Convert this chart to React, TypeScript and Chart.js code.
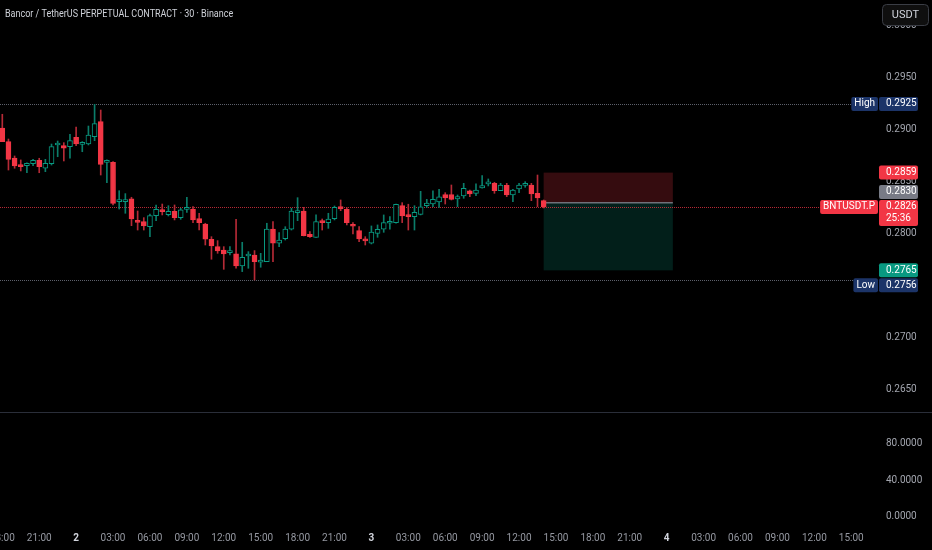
import { useEffect, useRef } from 'react'
import { Chart, registerables } from 'chart.js'
import type { ChartConfiguration, Plugin } from 'chart.js'

Chart.register(...registerables)

// 30m candles, day 1 18:00 -> day 3 14:00
const opens = [
  0.29019, 0.28888, 0.28731, 0.28663, 0.28657, 0.28676, 0.28709, 0.28632, 0.28676, 0.28856,
  0.28849, 0.2884, 0.2893, 0.28862, 0.28865, 0.28936, 0.2908, 0.28689, 0.28689, 0.28311,
  0.28311, 0.28337, 0.28125, 0.28118, 0.2807, 0.28176, 0.28231, 0.28186, 0.28218, 0.28157,
  0.28237, 0.2824, 0.28147, 0.28096, 0.27949, 0.27878, 0.27846, 0.2782, 0.27808, 0.27692,
  0.27788, 0.27798, 0.27728, 0.27734, 0.28048, 0.27911, 0.27955, 0.28045, 0.28205, 0.28221,
  0.27997, 0.27968, 0.28128, 0.28109, 0.28147, 0.28263, 0.28237, 0.28093, 0.28032, 0.27942,
  0.27911, 0.28006, 0.28045, 0.28103, 0.28109, 0.28272, 0.2818, 0.28167, 0.28189, 0.28272,
  0.28288, 0.28308, 0.28378, 0.28378, 0.28337, 0.28365, 0.28416, 0.28391, 0.28442, 0.28481,
  0.28487, 0.28416, 0.28468, 0.28375, 0.28433, 0.28468, 0.28471, 0.28391, 0.2832,
]
const highs = [
  0.29151, 0.28913, 0.2875, 0.28712, 0.28683, 0.28718, 0.28728, 0.28718, 0.28865, 0.28894,
  0.28878, 0.28959, 0.29029, 0.28888, 0.29038, 0.29247, 0.29192, 0.28712, 0.28695, 0.28416,
  0.28388, 0.28353, 0.28221, 0.28157, 0.28192, 0.28279, 0.28288, 0.28272, 0.28279, 0.28247,
  0.28353, 0.28263, 0.28199, 0.28103, 0.27974, 0.27936, 0.27878, 0.27878, 0.28141, 0.2792,
  0.2783, 0.2784, 0.27814, 0.28103, 0.28118, 0.28013, 0.2807, 0.28247, 0.28349, 0.28256,
  0.28022, 0.28183, 0.28144, 0.28199, 0.28269, 0.28327, 0.28253, 0.28109, 0.2807, 0.27974,
  0.28077, 0.28087, 0.28183, 0.28167, 0.28288, 0.28301, 0.28286, 0.28272, 0.2841, 0.28333,
  0.28416, 0.2843, 0.28397, 0.28471, 0.28375, 0.28487, 0.28423, 0.28481, 0.28561, 0.28529,
  0.28497, 0.28487, 0.28487, 0.2843, 0.28487, 0.28503, 0.28487, 0.28567, 0.28327,
]
const lows = [
  0.28888, 0.28615, 0.28632, 0.28606, 0.28589, 0.28657, 0.28589, 0.28599, 0.28663, 0.28743,
  0.28702, 0.28728, 0.28849, 0.28791, 0.28856, 0.28897, 0.28567, 0.28493, 0.28279, 0.2824,
  0.28199, 0.2808, 0.28038, 0.28038, 0.27974, 0.28128, 0.28183, 0.28173, 0.28135, 0.28141,
  0.28208, 0.28109, 0.28038, 0.27894, 0.27757, 0.27814, 0.2766, 0.27798, 0.2767, 0.27638,
  0.2767, 0.27558, 0.2768, 0.27734, 0.27734, 0.27878, 0.27942, 0.28038, 0.28128, 0.27981,
  0.27968, 0.27968, 0.28038, 0.28054, 0.28135, 0.28224, 0.28087, 0.28, 0.27926, 0.27894,
  0.27904, 0.27968, 0.28016, 0.28045, 0.28103, 0.28109, 0.28038, 0.28038, 0.28183, 0.28256,
  0.28263, 0.28256, 0.28288, 0.28327, 0.28263, 0.28343, 0.28359, 0.28368, 0.2844, 0.28462,
  0.28391, 0.28416, 0.28359, 0.28311, 0.28397, 0.28449, 0.2832, 0.28263, 0.2825,
]
const closes = [
  0.28888, 0.28718, 0.28654, 0.28647, 0.2868, 0.28709, 0.28647, 0.2868, 0.2884, 0.28868,
  0.28824, 0.28897, 0.28865, 0.28878, 0.28952, 0.29061, 0.2867, 0.28709, 0.28295, 0.28327,
  0.28327, 0.28144, 0.28112, 0.28077, 0.28176, 0.28238, 0.28215, 0.28218, 0.28157, 0.28231,
  0.28247, 0.28135, 0.28109, 0.27949, 0.27885, 0.27837, 0.27808, 0.2783, 0.27692, 0.27776,
  0.27805, 0.27734, 0.2775, 0.28048, 0.27911, 0.27942, 0.28048, 0.28221, 0.28218, 0.27984,
  0.27974, 0.28118, 0.28109, 0.28144, 0.28256, 0.2824, 0.28109, 0.28074, 0.27952, 0.27933,
  0.28019, 0.28045, 0.28109, 0.28118, 0.28286, 0.28173, 0.28167, 0.28209, 0.2826, 0.28298,
  0.28333, 0.28356, 0.28346, 0.28333, 0.28359, 0.28439, 0.28385, 0.28423, 0.28465, 0.28493,
  0.28416, 0.28471, 0.28375, 0.28423, 0.28471, 0.28487, 0.28385, 0.28346, 0.2826,
]

// time axis: one tick every 6 bars (3h)
const timeTickIdx = [
  0, 6, 12, 18, 24, 30, 36, 42, 48, 54, 60, 66, 72, 78, 84, 90, 96, 102, 108, 114, 120, 126, 132, 138,
]
const timeTickLabels = [
  '18:00', '21:00', '2', '03:00', '06:00', '09:00', '12:00', '15:00', '18:00', '21:00', '3', '03:00',
  '06:00', '09:00', '12:00', '15:00', '18:00', '21:00', '4', '03:00', '06:00', '09:00', '12:00', '15:00',
]
const dayLabels = ['2', '3', '4']
const priceTicks = [0.265, 0.27, 0.275, 0.28, 0.285, 0.29, 0.295, 0.3]
const paneTicks = [0, 40, 80]

const title = 'Bancor / TetherUS PERPETUAL CONTRACT · 30 · Binance'
const symbol = 'BNTUSDT.P'
const countdown = '25:36'
const highPrice = 0.2925
const lowPrice = 0.2756
const lastPrice = 0.2826
// long/short position tool
const entryPrice = 0.283
const stopPrice = 0.2859
const targetPrice = 0.2765
const positionStart = 88
const positionEnd = 109

const UP = '#089981'
const DOWN = '#f23645'
const FONT = 'Roboto, "Noto Sans", sans-serif'

const idx = opens.map((_, i) => i)
const isUp = (i: number) => closes[i] >= opens[i]

type AxisLabel = {
  price: number
  lines: string[]
  bg: string
  tag?: string
  fixed?: boolean
  y?: number
}

const overlay: Plugin<'bar'> = {
  id: 'overlay',
  beforeDatasetsDraw(chart) {
    const { ctx, chartArea } = chart
    const x = chart.scales.x
    const y = chart.scales.y
    ctx.save()

    // position tool boxes
    const xl = x.getPixelForValue(positionStart)
    const xr = x.getPixelForValue(positionEnd)
    const yStop = y.getPixelForValue(stopPrice)
    const yEntry = y.getPixelForValue(entryPrice)
    const yTarget = y.getPixelForValue(targetPrice)
    ctx.fillStyle = 'rgba(242,54,69,0.22)'
    ctx.fillRect(xl, yStop, xr - xl, yEntry - yStop)
    ctx.fillStyle = 'rgba(8,153,129,0.2)'
    ctx.fillRect(xl, yEntry, xr - xl, yTarget - yEntry)
    ctx.strokeStyle = 'rgba(120,123,134,0.9)'
    ctx.lineWidth = 1.5
    ctx.beginPath()
    ctx.moveTo(xl, yEntry)
    ctx.lineTo(xr, yEntry)
    ctx.stroke()

    // high / low / last price lines
    ctx.lineWidth = 1
    ctx.setLineDash([1, 1])
    const hline = (price: number, color: string, to: number) => {
      const py = Math.round(y.getPixelForValue(price)) + 0.5
      ctx.strokeStyle = color
      ctx.beginPath()
      ctx.moveTo(chartArea.left, py)
      ctx.lineTo(to, py)
      ctx.stroke()
    }
    hline(highPrice, '#5d606b', chartArea.right - 20)
    hline(lowPrice, '#5d606b', chartArea.right - 16)
    hline(lastPrice, 'rgba(242,54,69,0.75)', chartArea.right - 48)
    ctx.restore()
  },
  afterDraw(chart) {
    const { ctx, chartArea, width } = chart
    const y = chart.scales.y
    const y2 = chart.scales.y2
    ctx.save()

    // pane divider
    ctx.strokeStyle = '#2a2e39'
    ctx.lineWidth = 1
    ctx.beginPath()
    ctx.moveTo(0, Math.round(y2.top) + 0.5)
    ctx.lineTo(width, Math.round(y2.top) + 0.5)
    ctx.stroke()

    // price labels on the axis
    const labels: AxisLabel[] = [
      { price: highPrice, lines: [highPrice.toFixed(4)], bg: '#1c3468', tag: 'High' },
      { price: stopPrice, lines: [stopPrice.toFixed(4)], bg: DOWN },
      { price: entryPrice, lines: [entryPrice.toFixed(4)], bg: '#787b86' },
      { price: lastPrice, lines: [lastPrice.toFixed(4), countdown], bg: DOWN, tag: symbol, fixed: true },
      { price: targetPrice, lines: [targetPrice.toFixed(4)], bg: UP },
      { price: lowPrice, lines: [lowPrice.toFixed(4)], bg: '#1c3468', tag: 'Low' },
    ]
    const lineH = 12
    const half = 7
    labels.forEach((l) => (l.y = y.getPixelForValue(l.price)))
    labels.sort((a, b) => a.y! - b.y!)
    const f = labels.findIndex((l) => l.fixed)
    for (let k = f - 1; k >= 0; k--) {
      const next = labels[k + 1]
      const h = labels[k].lines.length * lineH + 2
      labels[k].y = Math.min(labels[k].y!, next.y! - half - 1 - h + half)
    }
    for (let k = f + 1; k < labels.length; k++) {
      const prev = labels[k - 1]
      const prevBottom = prev.y! - half + prev.lines.length * lineH + 2
      labels[k].y = Math.max(labels[k].y!, prevBottom + 1 + half)
    }

    ctx.font = `10px ${FONT}`
    ctx.textBaseline = 'middle'
    const boxL = chartArea.right + 4
    for (const l of labels) {
      const top = l.y! - half
      const h = l.lines.length * lineH + 2
      ctx.fillStyle = l.bg
      ctx.beginPath()
      ctx.roundRect(boxL, top, 39, h, 2)
      ctx.fill()
      ctx.fillStyle = '#ffffff'
      ctx.textAlign = 'left'
      l.lines.forEach((t, k) => ctx.fillText(t, boxL + 7, top + half + k * lineH))
      if (l.tag) {
        const tw = ctx.measureText(l.tag).width + 6
        ctx.fillStyle = l.bg
        ctx.beginPath()
        ctx.roundRect(boxL - 1 - tw, top, tw, 14, 2)
        ctx.fill()
        ctx.fillStyle = '#ffffff'
        ctx.textAlign = 'center'
        ctx.fillText(l.tag, boxL - 1 - tw / 2, top + half)
      }
    }

    // title (narrow face, as in the screenshot)
    ctx.save()
    ctx.font = `10.5px ${FONT}`
    ctx.fillStyle = '#cfd2d9'
    ctx.textAlign = 'left'
    ctx.translate(5, 14)
    ctx.scale(0.855, 1)
    ctx.fillText(title, 0, 0)
    ctx.restore()

    // currency button
    ctx.font = `11px ${FONT}`
    ctx.fillStyle = '#0f0f0f'
    ctx.strokeStyle = '#3a3d45'
    ctx.beginPath()
    ctx.roundRect(width - 49.5, 4.5, 46, 21, 4)
    ctx.fill()
    ctx.stroke()
    ctx.fillStyle = '#d1d4dc'
    ctx.textAlign = 'center'
    ctx.fillText('USDT', width - 26.5, 15)
    ctx.restore()
  },
}

const config: ChartConfiguration<'bar'> = {
  type: 'bar',
  data: {
    datasets: [
      {
        label: 'bodies',
        data: idx.map((i) => ({ x: i, y: [Math.min(opens[i], closes[i]), Math.max(opens[i], closes[i])] })) as any,
        backgroundColor: idx.map((i) => (isUp(i) ? '#000000' : DOWN)),
        borderColor: idx.map((i) => (isUp(i) ? UP : DOWN)),
        borderWidth: 1,
        borderSkipped: false,
        barThickness: 5,
        minBarLength: 2,
        grouped: false,
        order: 1,
        yAxisID: 'y',
      },
      {
        label: 'wicks',
        data: idx.map((i) => ({ x: i, y: [lows[i], highs[i]] })) as any,
        backgroundColor: idx.map((i) => (isUp(i) ? '#0b7d6a' : '#b52a36')),
        borderWidth: 0,
        barThickness: 1,
        grouped: false,
        order: 2,
        yAxisID: 'y',
      },
    ],
  },
  options: {
    responsive: false,
    animation: false,
    events: [],
    layout: { autoPadding: false, padding: 0 },
    plugins: { legend: { display: false }, tooltip: { enabled: false } },
    scales: {
      x: {
        type: 'linear',
        min: -0.374,
        max: 141.86,
        offset: false,
        grid: { display: false, drawTicks: false },
        border: { display: false },
        afterBuildTicks: (s) => {
          s.ticks = timeTickIdx.map((v) => ({ value: v }))
        },
        afterFit: (s) => {
          s.height = 22
          s.paddingLeft = 0
          s.paddingRight = 0
        },
        ticks: {
          autoSkip: false,
          maxRotation: 0,
          padding: 4,
          color: (c) => (dayLabels.includes(timeTickLabels[c.index]) ? '#d1d4dc' : '#9598a1'),
          font: (c) => ({
            family: FONT,
            size: 10,
            weight: dayLabels.includes(timeTickLabels[c.index]) ? 'bold' : 'normal',
          }),
          callback: (_v, i) => timeTickLabels[i],
        },
      },
      y: {
        type: 'linear',
        position: 'right',
        stack: 'panes',
        stackWeight: 412,
        min: 0.26288,
        max: 0.3025,
        grid: { display: false, drawTicks: false },
        border: { display: false },
        afterBuildTicks: (s) => {
          s.ticks = priceTicks.map((v) => ({ value: v }))
        },
        afterFit: (s) => {
          s.width = 57
          s.paddingTop = 0
          s.paddingBottom = 0
        },
        ticks: {
          padding: 11,
          color: '#a3a6af',
          font: { family: FONT, size: 10 },
          callback: (v) => Number(v).toFixed(4),
        },
      },
      y2: {
        type: 'linear',
        position: 'right',
        stack: 'panes',
        stackWeight: 116,
        min: -12,
        max: 114,
        grid: { display: false, drawTicks: false },
        border: { display: false },
        afterBuildTicks: (s) => {
          s.ticks = paneTicks.map((v) => ({ value: v }))
        },
        afterFit: (s) => {
          s.width = 57
          s.paddingTop = 0
          s.paddingBottom = 0
        },
        ticks: {
          padding: 11,
          color: '#a3a6af',
          font: { family: FONT, size: 10 },
          callback: (v) => Number(v).toFixed(4),
        },
      },
    },
  },
  plugins: [overlay],
}

export default function App() {
  const canvasRef = useRef<HTMLCanvasElement>(null)

  useEffect(() => {
    if (!canvasRef.current) return
    const chart = new Chart(canvasRef.current, config)
    return () => {
      chart.destroy()
    }
  }, [])

  return (
    <div style={{ position: 'fixed', left: 0, top: 0, width: 932, height: 550, background: '#000' }}>
      <canvas ref={canvasRef} width={932} height={550} style={{ display: 'block' }} />
    </div>
  )
}
